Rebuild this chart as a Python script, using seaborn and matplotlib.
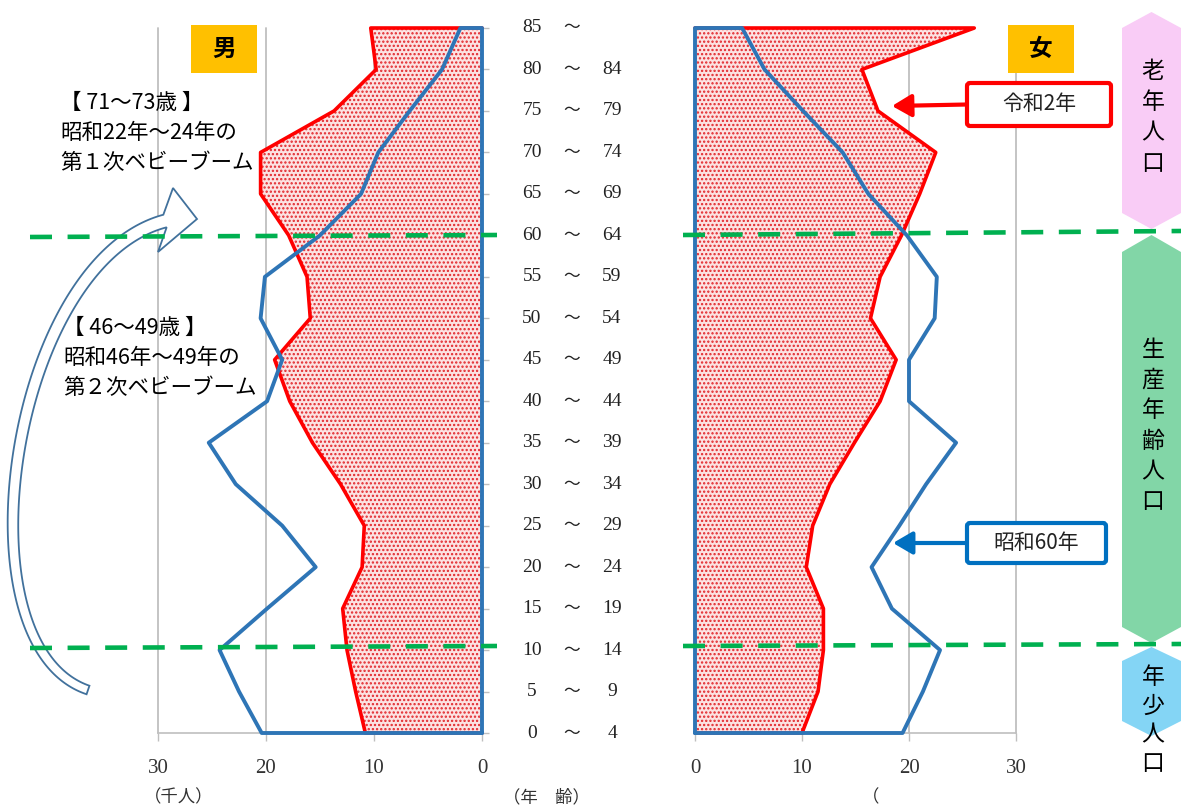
import numpy as np
import pandas as pd
import matplotlib
matplotlib.use("Agg")
import matplotlib.pyplot as plt
import matplotlib.transforms as mtransforms
from matplotlib.patches import Polygon, FancyBboxPatch, FancyArrowPatch, Rectangle
from matplotlib.lines import Line2D
import seaborn as sns

# ---- data -------------------------------------------------------------
# 5-year age groups, youngest first
age_from = [0, 5, 10, 15, 20, 25, 30, 35, 40, 45, 50, 55, 60, 65, 70, 75, 80, 85]
age_to = [4, 9, 14, 19, 24, 29, 34, 39, 44, 49, 54, 59, 64, 69, 74, 79, 84, None]

# population by age group (thousand people)
male_r2 = [10.8, 11.7, 12.5, 12.9, 11.1, 10.9, 13.1, 15.7, 17.8, 19.2,
           15.9, 16.2, 17.9, 20.5, 20.5, 13.7, 9.8, 10.3]
male_s60 = [20.4, 22.5, 24.3, 19.9, 15.4, 18.5, 22.8, 25.3, 19.9, 18.5,
            20.5, 20.1, 15.0, 11.2, 9.6, 6.7, 3.7, 2.0]
female_r2 = [10.0, 11.5, 12.0, 12.0, 10.4, 11.0, 12.6, 14.9, 17.3, 18.8,
             16.4, 17.3, 19.3, 21.0, 22.5, 17.1, 15.6, 26.1]
female_s60 = [19.4, 21.3, 22.9, 18.4, 16.5, 19.1, 21.6, 24.4, 20.0, 20.0,
              22.4, 22.6, 19.8, 16.2, 13.8, 10.1, 6.5, 4.4]

x_ticks = [0, 10, 20, 30]
series_names = ["令和2年", "昭和60年"]
sex_labels = ["男", "女"]
group_names = ["老年人口", "生産年齢人口", "年少人口"]
boom_notes = [["【 71〜73歳 】", "昭和22年〜24年の", "第１次ベビーブーム"],
              ["【 46〜49歳 】", "昭和46年〜49年の", "第２次ベビーブーム"]]
axis_units = ["（千人）", "（年　齢）", "（"]

# ---- style --------------------------------------------------------------
W, H = 1181, 808
sns.set_theme(style="white")
plt.rcParams["font.family"] = ["Noto Sans CJK JP", "DejaVu Sans"]
plt.rcParams["hatch.linewidth"] = 1.1
SERIF = ["Liberation Serif", "DejaVu Serif"]
BLUE = "#2E75B6"
RED = "#FF0000"
GRID = "#BFBFBF"
GREEN = "#00B050"

fig = plt.figure(figsize=(W / 100, H / 100), dpi=100)
fig.patch.set_facecolor("white")
PX = fig.dpi_scale_trans  # inches, 100 px each


def P(x, y):
    """pixel position (origin top-left) -> inches for PX transform"""
    return (x / 100.0, (H - y) / 100.0)


def panel_axes(x0, x1, y_top=28, y_bot=733):
    return fig.add_axes([x0 / W, 1 - y_bot / H, (x1 - x0) / W, (y_bot - y_top) / H])


ax_m = panel_axes(158, 482)
ax_f = panel_axes(695, 1016)


def draw_panel(ax, r2, s60, reverse):
    n = len(r2)
    rows = np.arange(n)
    ax.set_facecolor("none")
    ax.grid(False)
    for v in x_ticks[1:]:
        ax.axvline(v, color=GRID, lw=1.3, zorder=0.5, clip_on=False)
    # current population: dotted area
    ax.fill_betweenx(rows, 0, r2, facecolor="#FCE2E2", edgecolor="#E2262B",
                     hatch="....", linewidth=0, zorder=1)
    red = pd.DataFrame({"pop": [0.0] + list(r2) + [0.0],
                        "row": [0] + list(rows) + [n - 1]})
    sns.lineplot(data=red, x="pop", y="row", orient="y", sort=False,
                 estimator=None, color=RED, lw=2.6, ax=ax, clip_on=False, zorder=3)
    blue = pd.DataFrame({"pop": [0.0] + list(s60) + [0.0, 0.0],
                         "row": [0] + list(rows) + [n - 1, 0]})
    sns.lineplot(data=blue, x="pop", y="row", orient="y", sort=False,
                 estimator=None, color=BLUE, lw=2.8, ax=ax, clip_on=False, zorder=4)
    ax.set_ylim(0, n - 1)
    ax.set_xlim((30, 0) if reverse else (0, 30))
    for s in ["top", "left", "right"]:
        ax.spines[s].set_visible(False)
    ax.spines["bottom"].set_color(GRID)
    ax.spines["bottom"].set_linewidth(1.2)
    ax.set_xticks(x_ticks)
    ax.set_xticklabels([str(v) for v in x_ticks], fontfamily=SERIF, fontsize=15,
                       color="#333333")
    ax.tick_params(axis="x", length=6, width=1, color=GRID, pad=13,
                   direction="out", bottom=True)
    ax.set_xlabel("")
    ax.set_ylabel("")
    return rows


rows = draw_panel(ax_m, male_r2, male_s60, reverse=True)
draw_panel(ax_f, female_r2, female_s60, reverse=False)
ax_m.set_yticks(rows)
ax_m.yaxis.tick_right()
ax_m.tick_params(axis="y", length=5, width=1, color=GRID, labelright=False,
                 right=True, left=False, direction="out")
ax_f.set_yticks([])

# ---- age labels between the panels ------------------------------------
tr_age = mtransforms.blended_transform_factory(PX, ax_m.transData)
for i, (a, b) in enumerate(zip(age_from, age_to)):
    kw = dict(transform=tr_age, ha="center", va="center", color="#222222")
    fig.text(5.32, i, str(a), fontfamily=SERIF, fontsize=14, **kw)
    fig.text(5.72, i, "〜", fontsize=12, **kw)
    if b is not None:
        fig.text(6.12, i, str(b), fontfamily=SERIF, fontsize=14, **kw)

# ---- axis unit captions -----------------------------------------------
fig.text(*P(179, 797), axis_units[0], transform=PX, ha="center", va="center",
         fontsize=12.5, color="#333333")
fig.text(*P(546, 797), axis_units[1], transform=PX, ha="center", va="center",
         fontsize=12.5, color="#333333")
fig.text(*P(862, 797), axis_units[2], transform=PX, ha="left", va="center",
         fontsize=12.5, color="#333333")

# ---- sex labels -------------------------------------------------------
for label, x0 in zip(sex_labels, [191, 1008]):
    fig.add_artist(Rectangle(P(x0, 73), 0.66, 0.48, transform=PX,
                             facecolor="#FFC000", edgecolor="none", zorder=5))
    fig.text(*P(x0 + 33, 49), label, transform=PX, ha="center", va="center",
             fontsize=17, fontweight="bold", color="black", zorder=6)

# ---- baby-boom notes --------------------------------------------------
for lines, (x0, y0) in zip(boom_notes, [(60, 103), (63, 328)]):
    for k, line in enumerate(lines):
        fig.text(*P(x0, y0 + k * 30), line, transform=PX, ha="left", va="center",
                 fontsize=15.5, color="black", zorder=7)

# ---- curved block arrow -----------------------------------------------
t = np.linspace(0, 1, 160)[:, None]
c0, c1, c2, c3 = (np.array(p, float) for p in [(88, 690), (-45, 645), (10, 262), (165, 221)])
curve = (1 - t) ** 3 * c0 + 3 * (1 - t) ** 2 * t * c1 + 3 * (1 - t) * t ** 2 * c2 + t ** 3 * c3
deriv = 3 * (1 - t) ** 2 * (c1 - c0) + 6 * (1 - t) * t * (c2 - c1) + 3 * t ** 2 * (c3 - c2)
tang = deriv / np.linalg.norm(deriv, axis=1, keepdims=True)
norm = np.column_stack([-tang[:, 1], tang[:, 0]])
half = np.linspace(4.5, 6.5, len(t))[:, None]
side_a = curve + norm * half
side_b = curve - norm * half
outline = list(side_a) + [(158, 252), (197, 219), (173, 188)] + list(side_b[::-1])
fig.add_artist(Polygon([P(x, y) for x, y in outline], closed=True, transform=PX,
                       facecolor="white", edgecolor="#41719C", lw=1.3, zorder=5))

# ---- green boundaries between age bands -------------------------------
def dashed(x0, y0, x1, y1):
    a, b = P(x0, y0), P(x1, y1)
    fig.add_artist(Line2D([a[0], b[0]], [a[1], b[1]], transform=PX, color=GREEN,
                          lw=3.3, dashes=(4.8, 3.4), dash_capstyle="butt", zorder=6))


dashed(30, 237, 497, 235)
dashed(683, 235, 1181, 231)
dashed(30, 648, 497, 646)
dashed(683, 646, 1181, 644)

# ---- age band tags on the right ---------------------------------------
def tag(y_top, y_sh1, y_sh2, y_bot, color, x0=1122, x1=1181):
    xc = (x0 + x1) / 2
    pts = [P(xc, y_top), P(x1, y_sh1), P(x1, y_sh2), P(xc, y_bot), P(x0, y_sh2), P(x0, y_sh1)]
    fig.add_artist(Polygon(pts, closed=True, transform=PX, facecolor=color,
                           edgecolor="none", zorder=4))


def vertical(text, y0, step, x=1153, size=16.5):
    for k, ch in enumerate(text):
        fig.text(*P(x, y0 + k * step), ch, transform=PX, ha="center", va="center",
                 fontsize=size, color="black", zorder=8)


tag(12, 28, 213, 229, "#F9CCF6")
tag(235, 252, 627, 643, "#82D6A7")
tag(647, 661, 721, 736, "#84D5F5")
vertical(group_names[0], 72, 30.5)
vertical(group_names[1], 350, 30.4)
vertical(group_names[2], 677, 29.0)

# ---- series callouts --------------------------------------------------
def callout(text, x0, y0, x1, y1, color, tip):
    fig.add_artist(FancyBboxPatch(P(x0, y1), (x1 - x0) / 100, (y1 - y0) / 100,
                                  boxstyle="round,pad=0,rounding_size=0.03",
                                  transform=PX, facecolor="white", edgecolor=color,
                                  lw=3, zorder=8))
    ym = (y0 + y1) / 2
    fig.add_artist(FancyArrowPatch(P(x0, ym), P(*tip), transform=PX,
                                   arrowstyle="-|>,head_length=0.65,head_width=0.38",
                                   mutation_scale=18, color=color, lw=3,
                                   shrinkA=0, shrinkB=0, zorder=8))
    fig.text(*P((x0 + x1) / 2, ym), text, transform=PX, ha="center", va="center",
             fontsize=15, color="#222222", zorder=9)


callout(series_names[0], 967, 83, 1111, 126, RED, (892, 106))
callout(series_names[1], 967, 523, 1106, 563, "#0070C0", (893, 543))

fig.savefig("out.png", dpi=100, facecolor="white")
